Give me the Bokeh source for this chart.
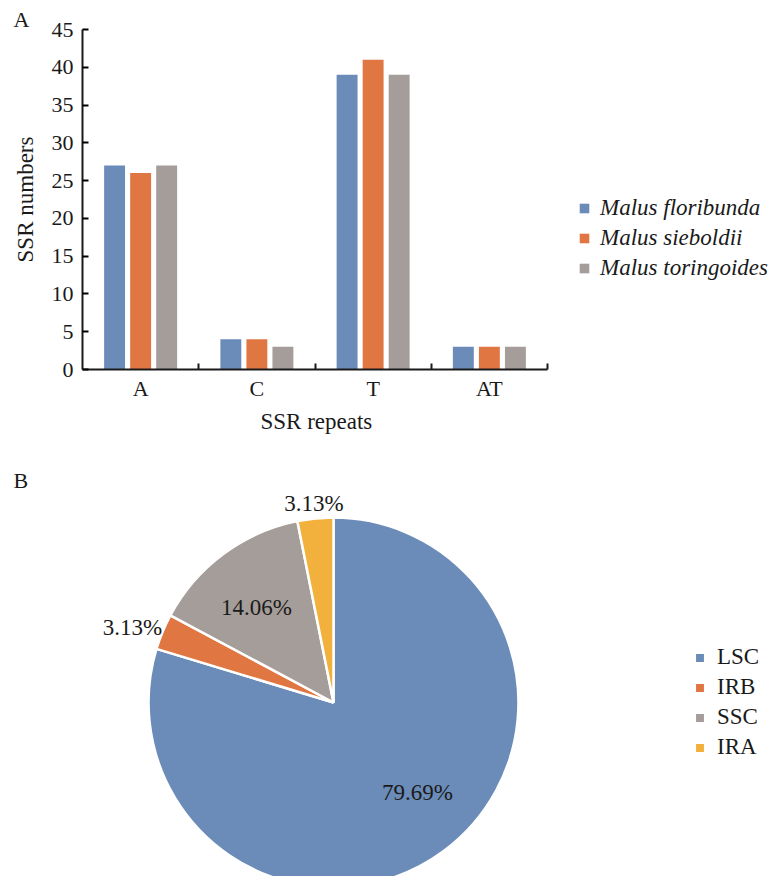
import numpy as np
from bokeh.plotting import figure
from bokeh.models import (ColumnDataSource, FixedTicker, Legend, LegendItem, Title)
from bokeh.layouts import column
from bokeh.transform import dodge
from bokeh.embed import file_html
from bokeh.resources import INLINE

# ---- data ----
repeats = ["A", "C", "T", "AT"]
floribunda = [27, 4, 39, 3]
sieboldii = [26, 4, 41, 3]
toringoides = [27, 3, 39, 3]
species = ["Malus floribunda", "Malus sieboldii", "Malus toringoides"]
y_ticks = [0, 5, 10, 15, 20, 25, 30, 35, 40, 45]

regions = ["LSC", "IRB", "SSC", "IRA"]
region_pct = [79.69, 3.13, 14.06, 3.13]
region_labels = ["79.69%", "3.13%", "14.06%", "3.13%"]

# ---- styles ----
FONT = "Liberation Serif"
bar_colors = ["#6B8CB8", "#E07743", "#A59D99"]
pie_colors = ["#6B8CB8", "#E07743", "#A59D99", "#F2B03C"]
TXT = "#1a1a1a"
W = 776
BL = 82   # left border shared by both panels

# ================= Panel A =================
n = len(repeats)
centers = np.arange(n) + 0.5
src = ColumnDataSource(dict(x=centers, f=floribunda, s=sieboldii, t=toringoides))

# frame spans to the right edge so the legend is not clipped; axis bounded to the categories
pa = figure(width=W, height=463, x_range=(0, n * 694 / 465), y_range=(0, 45),
            output_backend="svg", toolbar_location=None,
            min_border_left=BL, min_border_right=0, min_border_top=29,
            min_border_bottom=94)
pa.outline_line_color = None
pa.xgrid.visible = False
pa.ygrid.visible = False

bw = 0.18
off = 0.224
r1 = pa.vbar(x=dodge("x", -off, range=pa.x_range), top="f", width=bw, source=src,
             fill_color=bar_colors[0], line_color=None)
r2 = pa.vbar(x=dodge("x", 0, range=pa.x_range), top="s", width=bw, source=src,
             fill_color=bar_colors[1], line_color=None)
r3 = pa.vbar(x=dodge("x", off, range=pa.x_range), top="t", width=bw, source=src,
             fill_color=bar_colors[2], line_color=None)

for ax in (pa.xaxis[0], pa.yaxis[0]):
    ax.axis_line_width = 2
    ax.axis_line_color = TXT
    ax.major_label_text_font = FONT
    ax.major_label_text_font_size = "22px"
    ax.major_label_text_color = TXT
    ax.axis_label_text_font = FONT
    ax.axis_label_text_font_size = "23px"
    ax.axis_label_text_font_style = "normal"
    ax.axis_label_text_color = TXT

pa.yaxis.ticker = FixedTicker(ticks=y_ticks)
pa.yaxis.major_tick_in = 6
pa.yaxis.major_tick_out = 0
pa.yaxis.major_tick_line_width = 2
pa.yaxis.minor_tick_line_color = None
pa.yaxis.major_label_standoff = 9
pa.yaxis.axis_label = "SSR numbers"
pa.yaxis.axis_label_standoff = 11

pa.xaxis.bounds = (0, n)
pa.xaxis.ticker = FixedTicker(ticks=list(centers), minor_ticks=list(range(1, n + 1)))
pa.xaxis.major_label_overrides = {float(c): r for c, r in zip(centers, repeats)}
pa.xaxis.major_tick_in = 0
pa.xaxis.major_tick_out = 0
pa.xaxis.minor_tick_in = 6
pa.xaxis.minor_tick_out = 0
pa.xaxis.minor_tick_line_width = 2
pa.xaxis.minor_tick_line_color = TXT
pa.xaxis.major_label_standoff = 6

# x-axis title, centred under the category axis (not the wider frame)
pa.add_layout(Title(text="SSR repeats", align="left", offset=178, standoff=6,
                    text_font=FONT, text_font_size="23px", text_font_style="normal",
                    text_color=TXT), "below")

leg_a = Legend(items=[LegendItem(label=species[0], renderers=[r1]),
                      LegendItem(label=species[1], renderers=[r2]),
                      LegendItem(label=species[2], renderers=[r3])],
               location=(496, 86), padding=0, margin=0, spacing=0,
               glyph_width=12, glyph_height=12, label_height=30,
               label_standoff=10, label_text_font=FONT,
               label_text_font_size="23px", label_text_font_style="italic",
               label_text_color=TXT, border_line_color=None,
               background_fill_alpha=0)
pa.add_layout(leg_a, "center")

pa.add_layout(Title(text="A", align="left", offset=-69, standoff=-4,
                    text_font=FONT, text_font_size="22px", text_font_style="normal",
                    text_color=TXT), "above")

# ================= Panel B =================
frac = np.array(region_pct) / sum(region_pct)
cum = np.concatenate([[0], np.cumsum(frac)])
start = np.pi / 2 - cum[:-1] * 2 * np.pi
end = np.pi / 2 - cum[1:] * 2 * np.pi
mid = (start + end) / 2
label_r = np.array([0.665, 1.16, 0.661, 1.08])
label_turn = np.radians([6.4, 2.0, 2.5, 0.0])
ang = mid + label_turn
psrc = ColumnDataSource(dict(start=start, end=end, color=pie_colors, name=regions,
                             lx=np.cos(ang) * label_r, ly=np.sin(ang) * label_r,
                             lab=region_labels))

pb = figure(width=W, height=413, x_range=(-1.357, 2.395), y_range=(-0.9405, 1.146),
            output_backend="svg", toolbar_location=None,
            min_border_left=BL, min_border_right=0,
            min_border_top=27, min_border_bottom=0)
pb.outline_line_color = None
pb.axis.visible = False
pb.grid.visible = False

wr = pb.wedge(x=0, y=0, radius=1, start_angle="start", end_angle="end",
              direction="clock", fill_color="color", line_color="white",
              line_width=2.5, source=psrc)
pb.text(x="lx", y="ly", text="lab", source=psrc, text_font=FONT,
        text_font_size="23px", text_color=TXT, text_align="center",
        text_baseline="middle")

leg_b = Legend(items=[LegendItem(label=regions[i], renderers=[wr], index=i)
                      for i in range(len(regions))],
               location=(611, 114), padding=0, margin=0, spacing=0,
               glyph_width=13, glyph_height=13, label_height=30,
               label_standoff=11, label_text_font=FONT,
               label_text_font_size="23px", label_text_color=TXT,
               border_line_color=None, background_fill_alpha=0)
pb.add_layout(leg_b, "center")

pb.add_layout(Title(text="B", align="left", offset=-69, standoff=-4,
                    text_font=FONT, text_font_size="22px", text_font_style="normal",
                    text_color=TXT), "above")

layout = column(pa, pb, spacing=0)
open("out.html", "w").write(file_html(layout, INLINE))
